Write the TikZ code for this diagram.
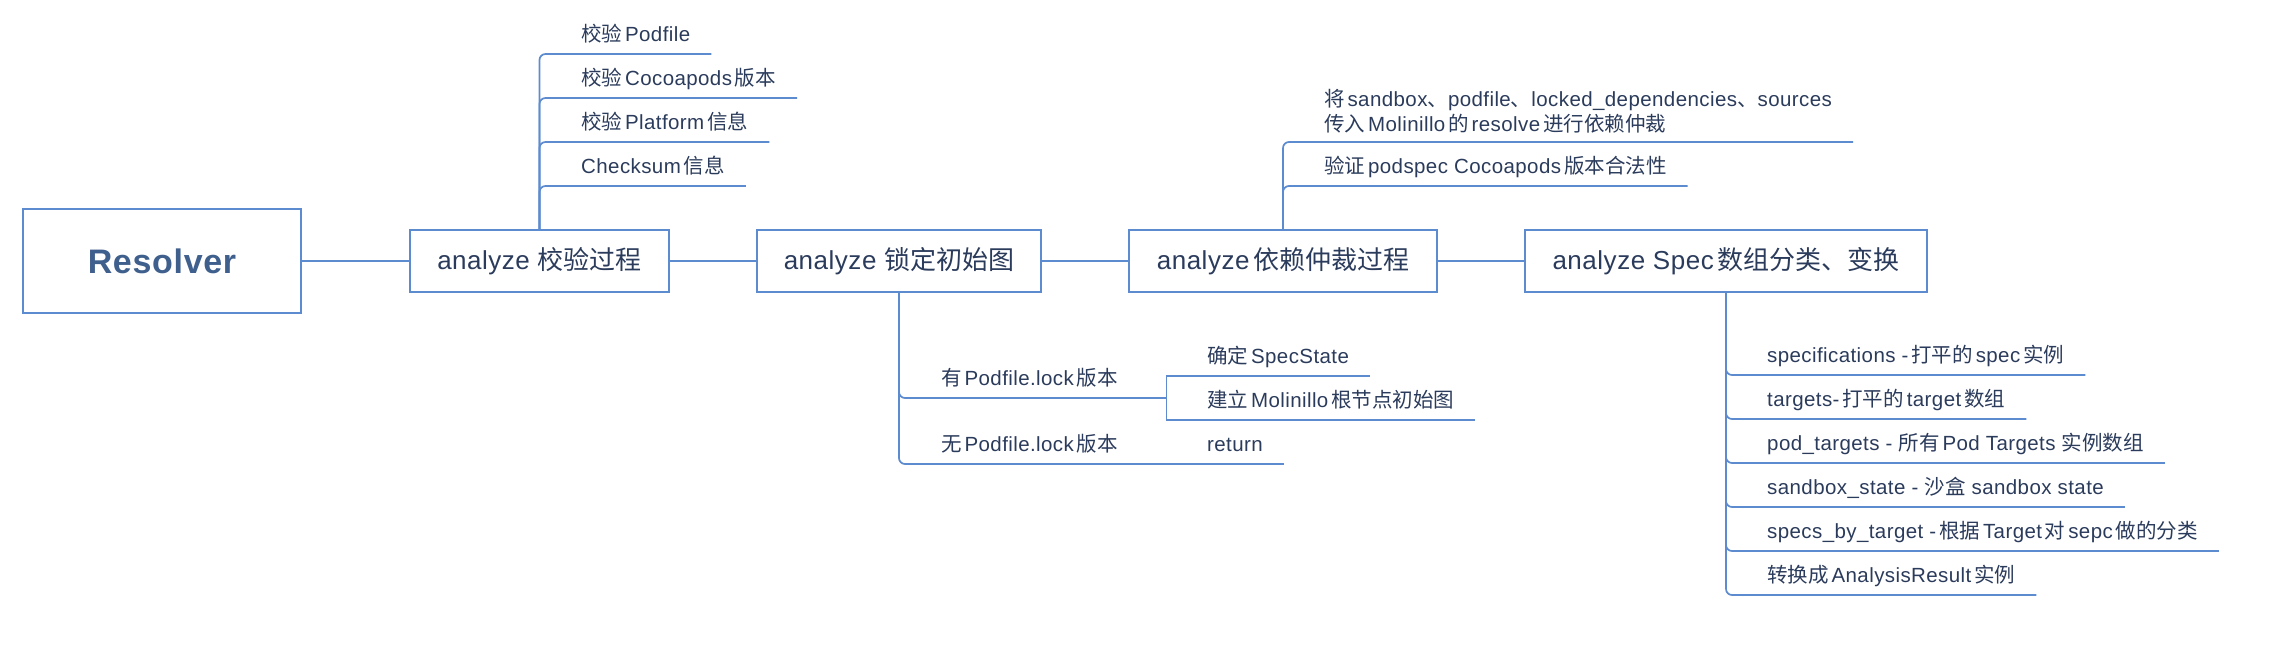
\documentclass[tikz,border=0pt]{standalone}
\usepackage{fontspec}
\setmainfont{Liberation Sans}[LetterSpace=2]
\newfontfamily\enfont{Liberation Sans}[LetterSpace=2]
\newfontfamily\zhfont{Noto Sans CJK SC}
\XeTeXinterchartokenstate=1
\newXeTeXintercharclass\zhclass
\newXeTeXintercharclass\zhpunct
\newcount\zhcode
\zhcode="3000
\loop\XeTeXcharclass\zhcode=\zhpunct
  \ifnum\zhcode<"303F \advance\zhcode by 1 \repeat
\zhcode="4E00
\loop\XeTeXcharclass\zhcode=\zhclass
  \ifnum\zhcode<"9FFF \advance\zhcode by 1 \repeat
\XeTeXinterchartoks 0 \zhclass = {\hspace{0.14em}\zhfont}
\XeTeXinterchartoks 4095 \zhclass = {\zhfont}
\XeTeXinterchartoks \zhclass 0 = {\enfont\hspace{0.14em}}
\XeTeXinterchartoks \zhclass 4095 = {\enfont}
\XeTeXinterchartoks 0 \zhpunct = {\zhfont}
\XeTeXinterchartoks 4095 \zhpunct = {\zhfont}
\XeTeXinterchartoks \zhpunct 0 = {\enfont}
\XeTeXinterchartoks \zhpunct 4095 = {\enfont}
\definecolor{linkblue}{HTML}{5D8BCF}
\definecolor{txtnavy}{HTML}{2B3B5B}
\definecolor{rootblue}{HTML}{3F5F8D}
\begin{document}
\begin{tikzpicture}[x=1pt, y=-1pt,
  root/.style={draw=linkblue, line width=2pt, rectangle, inner sep=0pt, minimum width=278pt, minimum height=104pt, text=rootblue, font=\fontsize{34}{40}\selectfont\bfseries},
  topic/.style={draw=linkblue, line width=2pt, rectangle, inner sep=0pt, minimum height=62pt, text=txtnavy, font=\fontsize{26}{30}\selectfont},
  sub/.style={anchor=south west, inner xsep=21pt, inner ysep=7pt, text depth=5pt, text=txtnavy, font=\fontsize{20.5}{25}\selectfont},
  link/.style={draw=linkblue, line width=1.7pt, rounded corners=6pt}]
\useasboundingbox (0,0) rectangle (2294,650);

\node[root] (res) at (162,261) {Resolver};
\node[topic, minimum width=259pt] (check) at (539.5,261) {analyze 校验过程};
\node[topic, minimum width=284pt] (lock) at (899,261) {analyze 锁定初始图};
\node[topic, minimum width=308pt] (arb) at (1283,261) {analyze依赖仲裁过程};
\node[topic, minimum width=402pt] (spec) at (1726,261) {analyze Spec数组分类、变换};

\draw[link] (res) -- (check);
\draw[link] (check) -- (lock);
\draw[link] (lock) -- (arb);
\draw[link] (arb) -- (spec);

\node[sub] (c1) at (560,54) {校验Podfile};
\node[sub] (c2) at (560,98) {校验Cocoapods版本};
\node[sub] (c3) at (560,142) {校验Platform信息};
\node[sub] (c4) at (560,186) {Checksum信息};
\draw[link] (check.north) |- (c1.south east);
\draw[link] (check.north) |- (c2.south east);
\draw[link] (check.north) |- (c3.south east);
\draw[link] (check.north) |- (c4.south east);

\node[sub, text width=204pt] (has) at (920,398) {有Podfile.lock版本};
\node[sub, text width=204pt] (none) at (920,464) {无Podfile.lock版本};
\node[sub] (state) at (1186,376) {确定SpecState};
\node[sub] (graph) at (1186,420) {建立Molinillo根节点初始图};
\node[sub] (ret) at (1186,464) {return};
\draw[link] (lock.south) |- (has.south east);
\draw[link] (lock.south) |- (none.south east);
\draw[link, sharp corners] (has.south east) |- (state.south east);
\draw[link, sharp corners] (has.south east) |- (graph.south east);
\draw[link] (none.south east) -- (ret.south east);

\node[sub, text depth=, inner ysep=9pt, align=left] (solve) at (1303,142) {将sandbox、podfile、locked\_dependencies、sources\\传入Molinillo的resolve进行依赖仲裁};
\node[sub] (verify) at (1303,186) {验证podspec Cocoapods版本合法性};
\draw[link] (arb.north) |- (solve.south east);
\draw[link] (arb.north) |- (verify.south east);

\node[sub] (s1) at (1746,375) {specifications -打平的spec实例};
\node[sub] (s2) at (1746,419) {targets-打平的target数组};
\node[sub] (s3) at (1746,463) {pod\_targets - 所有Pod Targets 实例数组};
\node[sub] (s4) at (1746,507) {sandbox\_state - 沙盒 sandbox state};
\node[sub] (s5) at (1746,551) {specs\_by\_target -根据Target对sepc做的分类};
\node[sub] (s6) at (1746,595) {转换成AnalysisResult实例};
\draw[link] (spec.south) |- (s1.south east);
\draw[link] (spec.south) |- (s2.south east);
\draw[link] (spec.south) |- (s3.south east);
\draw[link] (spec.south) |- (s4.south east);
\draw[link] (spec.south) |- (s5.south east);
\draw[link] (spec.south) |- (s6.south east);
\end{tikzpicture}
\end{document}
